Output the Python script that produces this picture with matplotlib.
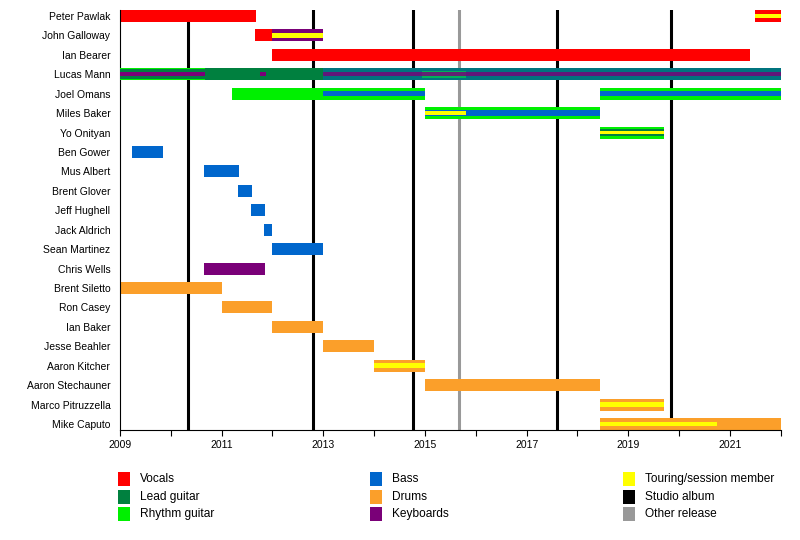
import matplotlib
matplotlib.use("Agg")
import matplotlib.pyplot as plt
from matplotlib.patches import Rectangle

plt.rcParams['font.family'] = ['Liberation Sans', 'DejaVu Sans']
plt.rcParams['font.size'] = 7.5

members = ["Peter Pawlak", "John Galloway", "Ian Bearer", "Lucas Mann", "Joel Omans",
           "Miles Baker", "Yo Onityan", "Ben Gower", "Mus Albert", "Brent Glover",
           "Jeff Hughell", "Jack Aldrich", "Sean Martinez", "Chris Wells",
           "Brent Siletto", "Ron Casey", "Ian Baker", "Jesse Beahler",
           "Aaron Kitcher", "Aaron Stechauner", "Marco Pitruzzella", "Mike Caputo"]

colors = {
    "Vocals": "#ff0000",
    "Lead guitar": "#00803f",
    "Rhythm guitar": "#00f000",
    "Bass": "#0066cc",
    "Drums": "#fb9f2a",
    "Keyboards": "#7a0078",
    "Touring/session member": "#ffff00",
    "Studio album": "#000000",
    "Other release": "#999999",
}

# main role bars: (member, start, end, role)
bars = [
    ("Peter Pawlak", 2009.0, 2011.67, "Vocals"),
    ("Peter Pawlak", 2021.5, 2022.0, "Vocals"),
    ("John Galloway", 2011.65, 2012.0, "Vocals"),
    ("John Galloway", 2012.0, 2013.0, "Keyboards"),
    ("Ian Bearer", 2012.0, 2021.4, "Vocals"),
    ("Lucas Mann", 2009.0, 2022.0, "Lead guitar"),
    ("Joel Omans", 2011.2, 2015.0, "Rhythm guitar"),
    ("Joel Omans", 2018.45, 2022.0, "Rhythm guitar"),
    ("Miles Baker", 2015.0, 2018.45, "Rhythm guitar"),
    ("Yo Onityan", 2018.45, 2019.7, "Rhythm guitar"),
    ("Ben Gower", 2009.24, 2009.85, "Bass"),
    ("Mus Albert", 2010.65, 2011.35, "Bass"),
    ("Brent Glover", 2011.33, 2011.6, "Bass"),
    ("Jeff Hughell", 2011.58, 2011.85, "Bass"),
    ("Jack Aldrich", 2011.83, 2012.0, "Bass"),
    ("Sean Martinez", 2012.0, 2013.0, "Bass"),
    ("Chris Wells", 2010.65, 2011.85, "Keyboards"),
    ("Brent Siletto", 2009.0, 2011.0, "Drums"),
    ("Ron Casey", 2011.0, 2012.0, "Drums"),
    ("Ian Baker", 2012.0, 2013.0, "Drums"),
    ("Jesse Beahler", 2013.0, 2014.0, "Drums"),
    ("Aaron Kitcher", 2014.0, 2015.0, "Drums"),
    ("Aaron Stechauner", 2015.0, 2018.45, "Drums"),
    ("Marco Pitruzzella", 2018.45, 2019.7, "Drums"),
    ("Mike Caputo", 2018.45, 2022.0, "Drums"),
]

# secondary stripes: (member, start, end, role, fraction of bar height, alpha)
stripes = [
    ("Peter Pawlak", 2021.5, 2022.0, "Touring/session member", 0.38, 1.0),
    ("John Galloway", 2012.0, 2013.0, "Touring/session member", 0.38, 1.0),
    ("Lucas Mann", 2009.0, 2010.67, "Rhythm guitar", 1.0, 1.0),
    ("Lucas Mann", 2009.0, 2010.67, "Lead guitar", 0.8, 1.0),
    ("Lucas Mann", 2009.0, 2010.67, "Keyboards", 0.33, 1.0),
    ("Lucas Mann", 2011.75, 2011.88, "Keyboards", 0.3, 1.0),
    ("Lucas Mann", 2014.95, 2015.8, "Rhythm guitar", 0.6, 1.0),
    ("Lucas Mann", 2013.0, 2022.0, "Bass", 1.0, 0.45),
    ("Lucas Mann", 2013.0, 2022.0, "Keyboards", 0.35, 0.8),
    ("Joel Omans", 2013.0, 2015.0, "Bass", 0.4, 1.0),
    ("Joel Omans", 2018.45, 2022.0, "Bass", 0.4, 1.0),
    ("Miles Baker", 2015.0, 2018.45, "Bass", 0.45, 1.0),
    ("Miles Baker", 2015.0, 2015.8, "Touring/session member", 0.32, 1.0),
    ("Yo Onityan", 2018.45, 2019.7, "Lead guitar", 0.55, 1.0),
    ("Yo Onityan", 2018.45, 2019.7, "Touring/session member", 0.28, 1.0),
    ("Aaron Kitcher", 2014.0, 2015.0, "Touring/session member", 0.38, 1.0),
    ("Marco Pitruzzella", 2018.45, 2019.7, "Touring/session member", 0.38, 1.0),
    ("Mike Caputo", 2018.45, 2020.75, "Touring/session member", 0.38, 1.0),
]

studio_albums = [2010.34, 2012.8, 2014.77, 2017.6, 2019.84]
other_releases = [2015.66]

BAR_H = 0.62

fig = plt.figure(figsize=(8, 5.4), dpi=100)
ax = fig.add_axes([0.15, 0.2037, 0.826, 0.7778])

for x in studio_albums:
    ax.axvline(x, color=colors["Studio album"], linewidth=2.2, zorder=1)
for x in other_releases:
    ax.axvline(x, color=colors["Other release"], linewidth=2.2, zorder=1)

row = {m: i for i, m in enumerate(members)}
for m, s, e, r in bars:
    ax.barh(row[m], e - s, left=s, height=BAR_H, color=colors[r], linewidth=0, zorder=2)
for m, s, e, r, f, a in stripes:
    ax.barh(row[m], e - s, left=s, height=BAR_H * f, color=colors[r], alpha=a,
            linewidth=0, zorder=3)

ax.set_xlim(2009, 2022)
ax.set_ylim(len(members) - 1 + BAR_H / 2, -BAR_H / 2)
ax.set_yticks(range(len(members)))
ax.set_yticklabels(members)
ax.set_xticks(range(2009, 2022, 2))
ax.set_xticks(range(2010, 2023, 2), minor=True)
ax.tick_params(axis='x', which='both', length=4, width=0.8, pad=3)
ax.tick_params(axis='y', length=0, pad=7)
for sp in ["top", "right"]:
    ax.spines[sp].set_visible(False)
ax.spines["left"].set_linewidth(0.8)
ax.spines["bottom"].set_linewidth(0.8)

# legend drawn in figure pixels
legend_cols = [
    ["Vocals", "Lead guitar", "Rhythm guitar"],
    ["Bass", "Drums", "Keyboards"],
    ["Touring/session member", "Studio album", "Other release"],
]
col_x = [118, 370, 623]
row_y = [479, 497, 514]
W, H = 800, 540
for cx, labels in zip(col_x, legend_cols):
    for ry, lab in zip(row_y, labels):
        fig.add_artist(Rectangle((cx / W, 1 - (ry + 7) / H), 12 / W, 14 / H,
                                 transform=fig.transFigure, color=colors[lab], linewidth=0))
        fig.text((cx + 22) / W, 1 - ry / H, lab, va='center', ha='left', fontsize=8.6)

fig.savefig("out.png", dpi=100)
